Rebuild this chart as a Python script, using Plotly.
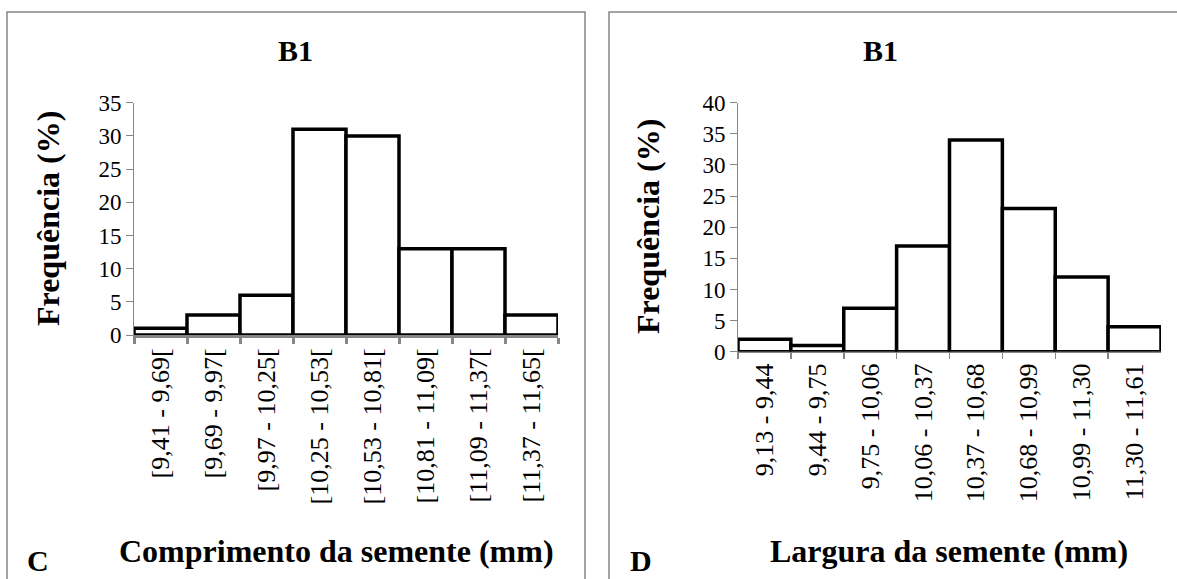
import plotly.graph_objects as go

# ---- data ----
cats_c = ["[9,41 - 9,69[", "[9,69 - 9,97[", "[9,97 - 10,25[", "[10,25 - 10,53[",
          "[10,53 - 10,81[", "[10,81 - 11,09[", "[11,09 - 11,37[", "[11,37 - 11,65["]
vals_c = [1, 3, 6, 31, 30, 13, 13, 3]

cats_d = ["9,13 - 9,44", "9,44 - 9,75", "9,75 - 10,06", "10,06 - 10,37",
          "10,37 - 10,68", "10,68 - 10,99", "10,99 - 11,30", "11,30 - 11,61"]
vals_d = [2, 1, 7, 17, 34, 23, 12, 4]

title_c = "B1"
title_d = "B1"
ytitle = "Frequência (%)"
xtitle_c = "Comprimento da semente (mm)"
xtitle_d = "Largura da semente (mm)"
panel_c = "C"
panel_d = "D"

W, H = 1177, 579
FONT = "Liberation Serif"
GRAY = "#868686"

def px(x):
    return x / W

def py(y):
    return 1 - y / H

fig = go.Figure()
fig.add_trace(go.Bar(x=cats_c, y=vals_c, width=1, xaxis="x", yaxis="y",
                     marker=dict(color="white", line=dict(color="black", width=3.5)),
                     showlegend=False, hoverinfo="skip"))
fig.add_trace(go.Bar(x=cats_d, y=vals_d, width=1, xaxis="x2", yaxis="y2",
                     marker=dict(color="white", line=dict(color="black", width=3.5)),
                     showlegend=False, hoverinfo="skip"))

tickfont = dict(family=FONT, size=23, color="black")
xtickfont = dict(family=FONT, size=26, color="black")

fig.update_layout(
    width=W, height=H,
    margin=dict(l=0, r=0, t=0, b=0, autoexpand=False),
    paper_bgcolor="white", plot_bgcolor="rgba(0,0,0,0)",
    bargap=0,
    font=dict(family=FONT),
    xaxis=dict(domain=[px(134), px(558)], anchor="y", type="category",
               range=[-0.5, 7.5], tickson="boundaries", ticks="outside",
               ticklen=6, tickwidth=3, tickcolor=GRAY, showline=True,
               linecolor=GRAY, linewidth=3, tickangle=-90, tickfont=xtickfont,
               showgrid=False, zeroline=False, fixedrange=True, automargin=False),
    yaxis=dict(domain=[py(335), py(102.7)], anchor="x", range=[0, 35], dtick=5,
               ticks="outside", ticklen=7, tickwidth=1, tickcolor=GRAY,
               showline=True, linecolor=GRAY, linewidth=1, tickfont=tickfont,
               showgrid=False, zeroline=False, fixedrange=True, automargin=False),
    xaxis2=dict(domain=[px(738), px(1161)], anchor="y2", type="category",
                range=[-0.5, 7.5], tickson="boundaries", ticks="outside",
                ticklen=6, tickwidth=1.5, tickcolor=GRAY, showline=True,
                linecolor=GRAY, linewidth=1.5, tickangle=-90, tickfont=xtickfont,
                showgrid=False, zeroline=False, fixedrange=True, automargin=False),
    yaxis2=dict(domain=[py(351.7), py(102.7)], anchor="x2", range=[0, 40], dtick=5,
                ticks="outside", ticklen=7, tickwidth=1, tickcolor=GRAY,
                showline=True, linecolor=GRAY, linewidth=1, tickfont=tickfont,
                showgrid=False, zeroline=False, fixedrange=True, automargin=False),
)

# chart-area borders
fig.add_shape(type="rect", xref="paper", yref="paper",
              x0=px(7), x1=px(585), y0=py(620), y1=py(12),
              line=dict(color=GRAY, width=1.5), fillcolor="rgba(0,0,0,0)", layer="below")
fig.add_shape(type="rect", xref="paper", yref="paper",
              x0=px(609), x1=px(1200), y0=py(620), y1=py(12),
              line=dict(color=GRAY, width=1.5), fillcolor="rgba(0,0,0,0)", layer="below")

def ann(text, x, y, size, angle=0, yanchor="middle"):
    fig.add_annotation(text=f"<b>{text}</b>", x=px(x), y=py(y), xref="paper", yref="paper",
                       showarrow=False, xanchor="center", yanchor=yanchor, textangle=angle,
                       borderpad=0,
                       font=dict(family=FONT, size=size, color="black"))

ann(title_c, 295, 51, 30)
ann(title_d, 880, 51, 30)
ann(ytitle, 48, 219, 32, -90)
ann(ytitle, 648, 227, 32, -90)
ann(xtitle_c, 336, 551, 32)
ann(xtitle_d, 949, 551, 32)
ann(panel_c, 38, 578, 30, yanchor="bottom")
ann(panel_d, 641, 578, 30, yanchor="bottom")

fig.write_html("out.html",
               config={"displayModeBar": False, "staticPlot": True},
               post_script="document.body.style.margin='0';document.body.style.overflow='hidden';")
